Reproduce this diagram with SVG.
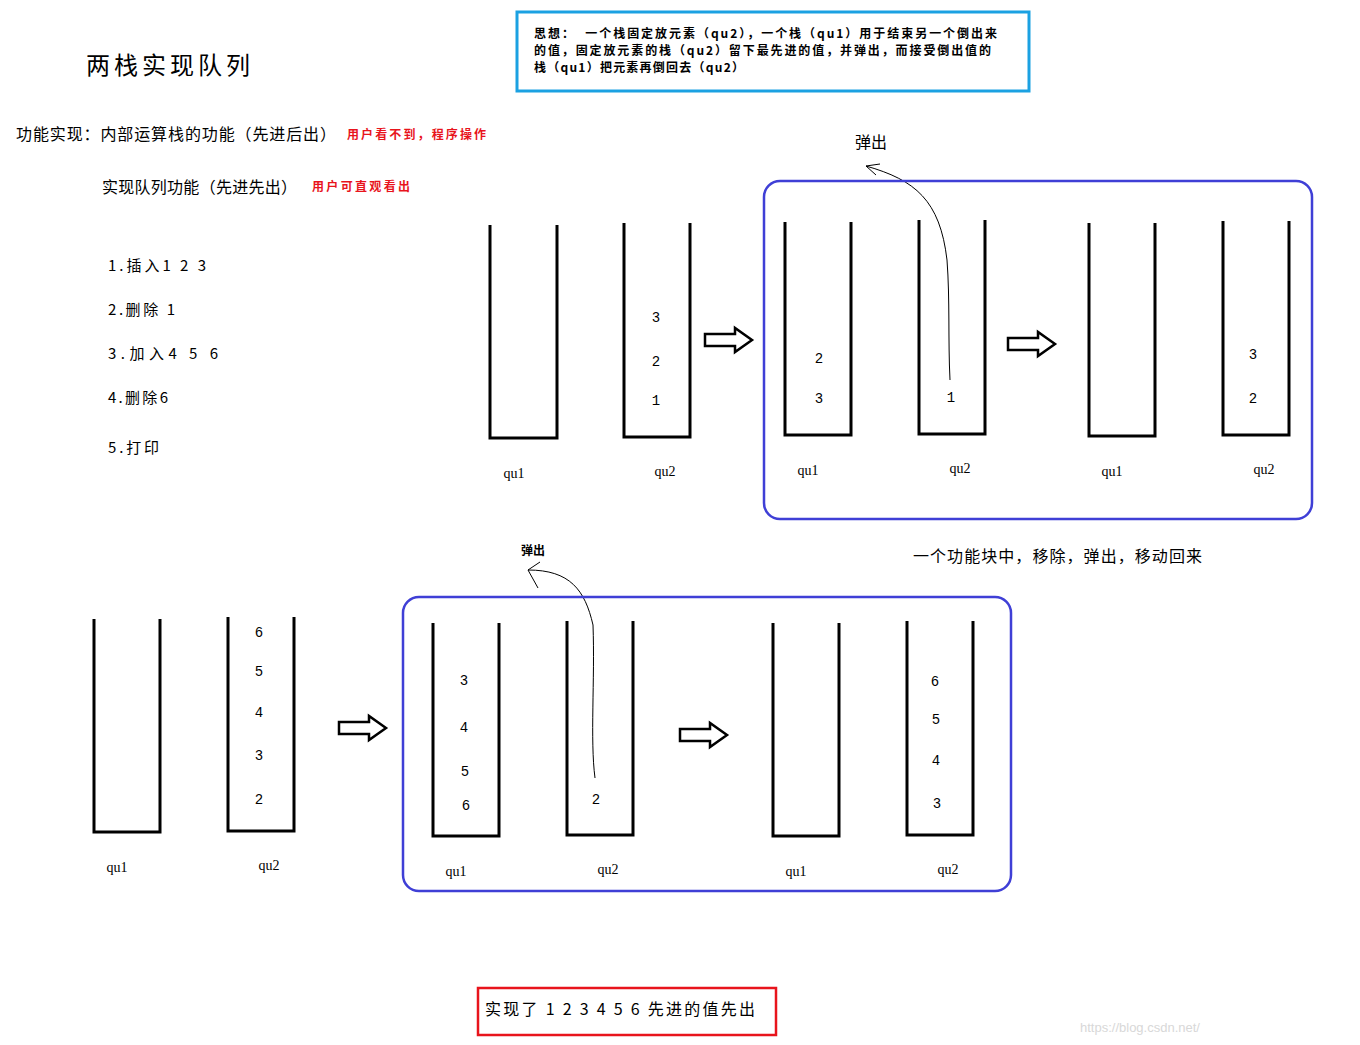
<svg xmlns="http://www.w3.org/2000/svg" width="1360" height="1045" viewBox="0 0 1360 1045">
<defs>
<style>
text{font-family:"Noto Sans CJK SC","Liberation Serif",serif;fill:#000}
.s{fill:none;stroke:#000;stroke-width:3}
.n{font-size:14px;font-family:"Liberation Mono","Noto Sans CJK SC",monospace;text-anchor:middle}
.l{font-size:14px;font-family:"Liberation Serif","Noto Sans CJK SC",serif;text-anchor:middle}
.red{fill:#e8141c;font-size:12px;font-weight:bold}
.box{fill:none;stroke:#3f3fd6;stroke-width:2.5}
.ar{fill:#fff;stroke:#000;stroke-width:2.5}
.cv{fill:none;stroke:#000;stroke-width:1}
</style>
<path id="arw" d="M0,-6 L30,-6 L30,-12 L47,0 L30,12 L30,6 L0,6 Z"/>
</defs>
<rect width="1360" height="1045" fill="#fff"/>
<text x="86" y="74" font-size="24" textLength="164">两栈实现队列</text>
<rect x="517" y="12" width="512" height="79" fill="none" stroke="#1ba1e2" stroke-width="3"/>
<g font-size="12" font-weight="bold">
<text x="534" y="38" textLength="463" xml:space="preserve">思想：  一个栈固定放元素（qu2），一个栈（qu1）用于结束另一个倒出来</text>
<text x="534" y="55" textLength="457">的值，固定放元素的栈（qu2）留下最先进的值，并弹出，而接受倒出值的</text>
<text x="534" y="72" textLength="210">栈（qu1）把元素再倒回去（qu2）</text>
</g>
<text x="16" y="140" font-size="16" textLength="320">功能实现：内部运算栈的功能（先进后出）</text>
<text x="347" y="139" class="red" textLength="139">用户看不到，程序操作</text>
<text x="102" y="193" font-size="16" textLength="195">实现队列功能（先进先出）</text>
<text x="312" y="191" class="red" textLength="98">用户可直观看出</text>
<g font-size="15" xml:space="preserve">
<text x="108" y="271" textLength="98">1.插入1 2 3</text>
<text x="108" y="315" textLength="67">2.删除 1</text>
<text x="108" y="359" textLength="110">3.加入4  5  6</text>
<text x="108" y="403" textLength="60">4.删除6</text>
<text x="108" y="453" textLength="51">5.打印</text>
</g>
<g id="connectors">
<use href="#arw" x="705" y="340" class="ar"/>
<use href="#arw" x="1008" y="344" class="ar"/>
<use href="#arw" x="339" y="728" class="ar"/>
<use href="#arw" x="680" y="735" class="ar"/>
<path class="cv" d="M950,380 C948,340 950,300 947,260 C940,200 915,180 866,166 M866,166 L880,164 M866,166 L876,175"/>
<path class="cv" d="M595,778 C590,740 595,680 593,625 C585,590 570,570 528,570 M528,570 L540,562 M528,570 L538,588"/>
</g>
<rect class="box" x="764" y="181" width="548" height="338" rx="16"/>
<rect class="box" x="403" y="597" width="608" height="294" rx="16"/>
<text x="855" y="148" font-size="16">弹出</text>
<text x="521" y="555" font-size="12" font-weight="bold">弹出</text>
<g id="A"><path class="s" d="M490,225V438H557V225"/><text class="l" x="514" y="478">qu1</text></g>
<g id="B"><path class="s" d="M624,223V437H690V223"/><text class="n" x="656" y="322">3</text><text class="n" x="656" y="366">2</text><text class="n" x="656" y="405">1</text><text class="l" x="665" y="476">qu2</text></g>
<g id="C"><path class="s" d="M785,222V435H851V222"/><text class="n" x="819" y="363">2</text><text class="n" x="819" y="403">3</text><text class="l" x="808" y="475">qu1</text></g>
<g id="D"><path class="s" d="M919,220V434H985V220"/><text class="n" x="951" y="402">1</text><text class="l" x="960" y="473">qu2</text></g>
<g id="E"><path class="s" d="M1089,223V436H1155V223"/><text class="l" x="1112" y="476">qu1</text></g>
<g id="F"><path class="s" d="M1223,221V435H1289V221"/><text class="n" x="1253" y="359">3</text><text class="n" x="1253" y="403">2</text><text class="l" x="1264" y="474">qu2</text></g>
<g id="G"><path class="s" d="M94,619V832H160V619"/><text class="l" x="117" y="872">qu1</text></g>
<g id="H"><path class="s" d="M228,617V831H294V617"/><text class="n" x="259" y="637">6</text><text class="n" x="259" y="676">5</text><text class="n" x="259" y="717">4</text><text class="n" x="259" y="760">3</text><text class="n" x="259" y="804">2</text><text class="l" x="269" y="870">qu2</text></g>
<g id="I"><path class="s" d="M433,623V836H499V623"/><text class="n" x="464" y="685">3</text><text class="n" x="464" y="732">4</text><text class="n" x="465" y="776">5</text><text class="n" x="466" y="810">6</text><text class="l" x="456" y="876">qu1</text></g>
<g id="J"><path class="s" d="M567,621V835H633V621"/><text class="n" x="596" y="804">2</text><text class="l" x="608" y="874">qu2</text></g>
<g id="K"><path class="s" d="M773,623V836H839V623"/><text class="l" x="796" y="876">qu1</text></g>
<g id="L"><path class="s" d="M907,621V835H973V621"/><text class="n" x="935" y="686">6</text><text class="n" x="936" y="724">5</text><text class="n" x="936" y="765">4</text><text class="n" x="937" y="808">3</text><text class="l" x="948" y="874">qu2</text></g>
<text x="913" y="562" font-size="16" textLength="289">一个功能块中，移除，弹出，移动回来</text>
<rect x="478" y="988" width="298" height="47" fill="none" stroke="#e8141c" stroke-width="2.5"/>
<text x="485" y="1015" font-size="16" xml:space="preserve" textLength="270">实现了 1 2 3 4 5 6 先进的值先出</text>
<text x="1080" y="1032" font-size="13" style="fill:#d8d8d8;font-family:'Liberation Sans',sans-serif">https://blog.csdn.net/</text>
</svg>
